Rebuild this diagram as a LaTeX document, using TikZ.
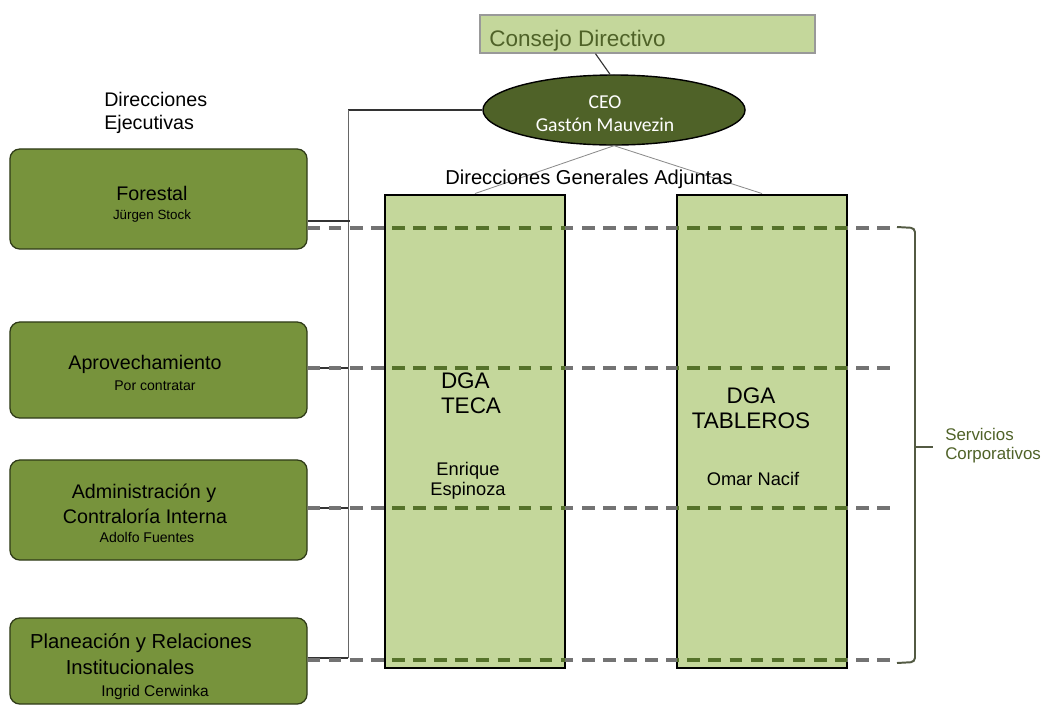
\documentclass[tikz,border=0pt]{standalone}
\usepackage{fontspec}
\setmainfont{Liberation Sans}
\newfontfamily\calibri{Carlito}
\usetikzlibrary{positioning,shapes.geometric}

\definecolor{verdeclaro}{HTML}{C4D79B}
\definecolor{verdemedio}{HTML}{77933C}
\definecolor{verdeoscuro}{HTML}{4F6228}
\definecolor{verdeguion}{HTML}{55722A}

\begin{document}
\begin{tikzpicture}[x=0.025cm, y=-0.025cm,
  ejecutiva/.style={draw=verdeoscuro!60!black, line width=0.9pt, fill=verdemedio,
    rounded corners=7pt, minimum width=7.425cm, inner sep=0pt},
  adjunta/.style={draw=black, line width=2pt, fill=verdeclaro,
    minimum height=11.825cm, inner sep=0pt},
  titulo/.style={inner sep=0pt, font=\fontsize{14}{16.5}\selectfont},
  nombre/.style={inner sep=0pt, font=\fontsize{10}{12}\selectfont},
  dga/.style={inner sep=0pt, align=left, font=\fontsize{16}{18}\selectfont},
  enlace/.style={draw=black!80, line width=0.8pt},
  linea/.style={draw=black!45, line width=0.6pt},
  servicio/.style={draw=black!55, line width=2.4pt, dash pattern=on 9pt off 6pt},
]
  \useasboundingbox (0,0) rectangle (1047,706);

  % top of the chart
  \node [draw=black!40, line width=1pt, fill=verdeclaro, minimum width=8.375cm,
    minimum height=0.95cm, inner sep=0pt] (consejo) at (647.5,34) {};
  \node [anchor=west, inner sep=0pt, text=verdeoscuro,
    font=\fontsize{16}{18}\selectfont] (consejo-txt) at (489,41) {Consejo Directivo};
  \node [ellipse, draw=black, line width=1pt, fill=verdeoscuro, minimum width=6.55cm,
    minimum height=1.75cm, inner sep=0pt] (ceo) at (614,110) {};
  \node [align=center, inner sep=0pt, text=white,
    font=\calibri\fontsize{14}{16.3}\selectfont] (ceo-txt) at (605,114)
    {CEO\\Gastón Mauvezin};

  % direcciones generales adjuntas
  \node [adjunta, minimum width=4.5cm] (teca) at (475,431.5) {};
  \node [adjunta, minimum width=4.25cm] (tableros) at (762,431.5) {};

  % direcciones ejecutivas
  \node [ejecutiva, minimum height=2.5cm] (forestal) at (158.5,199) {};
  \node [ejecutiva, minimum height=2.4cm] (aprovechamiento) at (158.5,370) {};
  \node [ejecutiva, minimum height=2.5cm] (administracion) at (158.5,510) {};
  \node [ejecutiva, minimum height=2.15cm] (planeacion) at (158.5,661) {};

  % connectors
  \draw [enlace] ([xshift=-1.3cm]consejo.south) -- ([xshift=-0.1cm]ceo.north);
  \draw [linea] (ceo.south) -- (teca.north);
  \draw [linea] (ceo.south) -- (tableros.north);

  \coordinate (bus-top) at (ceo.west -| 348,0);
  \coordinate (bus-bot) at (348,658);
  \draw [enlace] (ceo.west) -- (bus-top);
  \draw [linea, draw=black!60] (bus-top) -- (bus-bot);
  \draw [enlace] (bus-bot) -- (planeacion.east |- bus-bot);
  \draw [enlace] ([yshift=-0.55cm]forestal.east) -- ++(42,0);
  \draw [enlace] ([yshift=0.05cm]aprovechamiento.east) -- ++(40,0);
  \draw [enlace] ([yshift=0.05cm]administracion.east) -- ++(40,0);

  \foreach \dir/\y in {forestal/228, aprovechamiento/368,
                       administracion/508, planeacion/660}
    \draw [servicio] (\dir.east |- 0,\y) -- (893,\y);
  % same dashes, olive where they cross the two columns
  \begin{scope}
    \clip (385,197) rectangle (565,666) (677,197) rectangle (847,666);
    \foreach \dir/\y in {forestal/228, aprovechamiento/368,
                         administracion/508, planeacion/660}
      \draw [servicio, draw=verdeguion] (\dir.east |- 0,\y) -- (893,\y);
  \end{scope}

  % servicios corporativos
  \coordinate (sc-top) at (915,228);
  \coordinate (sc-bot) at (915,662);
  \coordinate (sc-tip) at (915,447);
  \draw [draw=verdeoscuro!50!black!80, line width=1.4pt, rounded corners=3pt]
    (897,227) -- (sc-top) -- (sc-bot) -- (897,663);
  \draw [draw=verdeoscuro!50!black!80, line width=1.4pt] (sc-tip) -- ++(18,0);
  \node [anchor=west, align=left, inner sep=0pt, text=verdeoscuro,
    font=\fontsize{12}{13.5}\selectfont] (sc-txt) at (945,446)
    {Servicios\\Corporativos};

  % texts
  \node [titulo, align=left, anchor=west] (ejec-txt) at (104,113)
    {Direcciones\\Ejecutivas};
  \node [titulo, font=\fontsize{14.3}{16}\selectfont] (adj-txt) at (589,179)
    {Direcciones Generales Adjuntas};

  \node [titulo] (forestal-t) at (152,193) {Forestal};
  \node [nombre, font=\fontsize{9.5}{11}\selectfont] (forestal-n) at (152,216) {Jürgen Stock};
  \node [titulo] (aprov-t) at (145,364) {Aprovechamiento};
  \node [nombre] (aprov-n) at (155,386) {Por contratar};
  \node [titulo] (admin-t1) at (144,493) {Administración y};
  \node [titulo] (admin-t2) at (145,516) {Contraloría Interna};
  \node [nombre] (admin-n) at (147,537) {Adolfo Fuentes};
  \node [titulo, font=\fontsize{14.4}{16}\selectfont] (plan-t1) at (141,643)
    {Planeación y Relaciones};
  \node [titulo, font=\fontsize{14.4}{16}\selectfont] (plan-t2) at (130,667)
    {Institucionales};
  \node [nombre, font=\fontsize{11}{13}\selectfont] (plan-n) at (155,692) {Ingrid Cerwinka};

  \node [dga] (teca-t) at (471,393) {DGA\\TECA};
  \node [nombre, align=center, font=\fontsize{13}{14.5}\selectfont] (teca-n) at (468,481)
    {Enrique\\Espinoza};
  \node [dga, align=center] (tableros-t) at (751,408) {DGA\\TABLEROS};
  \node [nombre, font=\fontsize{13}{14.5}\selectfont] (tableros-n) at (753,479) {Omar Nacif};
\end{tikzpicture}
\end{document}
